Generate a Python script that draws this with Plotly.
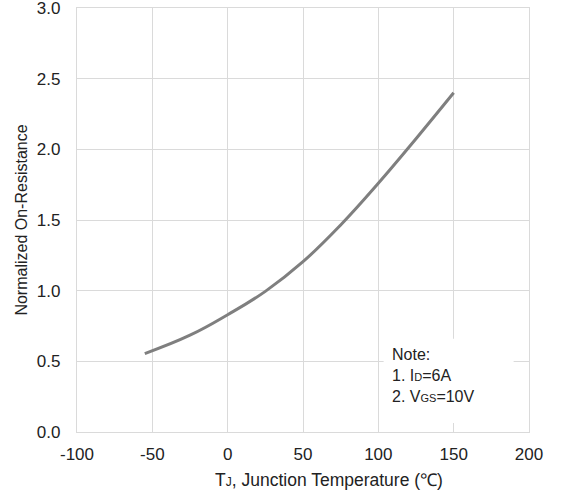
import plotly.graph_objects as go

temp_c = [-55, -25, 0, 25, 50, 75, 100, 125, 150]
norm_rds = [0.555, 0.685, 0.83, 0.995, 1.205, 1.465, 1.76, 2.075, 2.40]

x_ticks = [-100, -50, 0, 50, 100, 150, 200]
y_ticks = [0.0, 0.5, 1.0, 1.5, 2.0, 2.5, 3.0]
y_tick_text = ["0.0", "0.5", "1.0", "1.5", "2.0", "2.5", "3.0"]

x_title = "T<span style='font-size:12px'>J</span>, Junction Temperature (℃)"
y_title = "Normalized On-Resistance"
note_text = ("Note:<br>1. I<span style='font-size:11px'>D</span>=6A<br>"
             "2. V<span style='font-size:11px'>GS</span>=10V")

FONT = "Liberation Sans, Arial, sans-serif"
GRID = "#dadada"
TXT = "#222222"

fig = go.Figure()
fig.add_trace(go.Scatter(
    x=temp_c, y=norm_rds, mode="lines",
    line=dict(color="#7f7f7f", width=3, shape="spline", smoothing=1.2),
    showlegend=False, hoverinfo="skip",
))

fig.add_shape(type="rect", xref="x", yref="y",
              x0=103.5, x1=189.8, y0=0.064, y1=0.66,
              fillcolor="white", line=dict(width=0), layer="above")

fig.add_annotation(
    x=108, y=0.40, xref="x", yref="y", xanchor="left", yanchor="middle",
    align="left", showarrow=False, text=note_text,
    font=dict(family=FONT, size=16, color=TXT),
)

fig.add_annotation(
    x=0.5575, y=-0.113, xref="paper", yref="paper",
    xanchor="center", yanchor="middle", showarrow=False, text=x_title,
    font=dict(family=FONT, size=17.5, color=TXT),
)

fig.update_layout(
    width=565, height=494,
    margin=dict(l=77, r=36, t=8, b=62),
    paper_bgcolor="white", plot_bgcolor="white",
    font=dict(family=FONT, color=TXT),
    xaxis=dict(
        range=[-100, 200], tickvals=x_ticks, ticktext=[str(v) for v in x_ticks],
        showgrid=True, gridcolor=GRID, gridwidth=1.2, zeroline=False,
        showline=True, linecolor=GRID, linewidth=1.2, mirror=True,
        ticks="", ticklabelstandoff=6, automargin=False,
        ticklabeloverflow="allow",
        tickfont=dict(size=17, family=FONT, color=TXT),
    ),
    yaxis=dict(
        range=[0, 3.0], tickvals=y_ticks, ticktext=y_tick_text,
        showgrid=True, gridcolor=GRID, gridwidth=1.2, zeroline=False,
        showline=True, linecolor=GRID, linewidth=1.2, mirror=True,
        ticks="", ticklabelstandoff=12, automargin=False,
        ticklabeloverflow="allow",
        tickfont=dict(size=17, family=FONT, color=TXT),
        title=dict(text=y_title,
                   font=dict(size=16, family=FONT, color=TXT), standoff=5),
    ),
)

fig.write_html(
    "out.html",
    config={"displayModeBar": False},
    post_script="document.body.style.margin='0';document.body.style.overflow='hidden';",
)
